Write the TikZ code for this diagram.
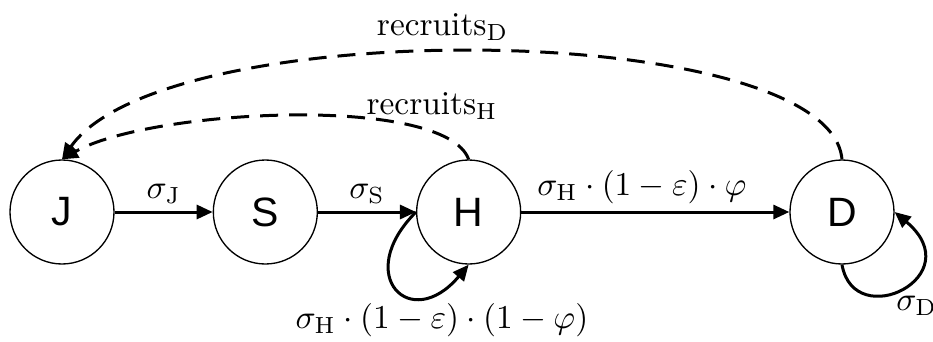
\documentclass[tikz,border=0pt]{standalone}
\usepackage{amsmath}
\usepackage{fontspec}
\setsansfont{Liberation Sans}
\usetikzlibrary{arrows.meta}
\usetikzlibrary{positioning}
\tikzset{
  estado/.style={draw, circle, line width=0.4pt, minimum size=31.2pt, inner sep=0pt, font=\fontsize{12.3}{14}\selectfont\sffamily},
  fluxo/.style={-{Triangle[length=4.8pt, width=4.2pt]}, line width=0.9pt},
  recruta/.style={fluxo, dash pattern=on 5.4pt off 3.3pt},
  rotulo/.style={font=\normalsize, inner sep=2pt},
}

\begin{document}
\begin{tikzpicture}[x=0.3pt, y=-0.3pt, node distance=29.4pt]
  \useasboundingbox (0,0) rectangle (933,341);
  \node[estado] (J) at (62,212) {J};
  \node[estado, right=of J] (S) {S};
  \node[estado, right=of S] (H) {H};
  \node[estado, right=80.4pt of H] (D) {D};
  \draw[fluxo] (J) -- node[rotulo, above] {$\sigma_\mathrm{J}$} (S);
  \draw[fluxo] (S) -- node[rotulo, above] {$\sigma_\mathrm{S}$} (H);
  \draw[fluxo] (H) -- node[rotulo, above, pos=0.45] {$\sigma_\mathrm{H}\cdot(1-\varepsilon)\cdot\varphi$} (D);
  % laços
  \draw[fluxo] (H.west) to[out=225, in=230, distance=27pt]
    node[rotulo, pos=0.65, below, xshift=8.7pt] {$\sigma_\mathrm{H}\cdot(1-\varepsilon)\cdot(1-\varphi)$} (H.south);
  \draw[fluxo] (D.south) to[out=-80, in=-40, out distance=21pt, in distance=30pt]
    node[rotulo, pos=0.5, below right, xshift=-4pt] {$\sigma_\mathrm{D}$} (D.east);
  % recrutamento
  \draw[recruta] (H.north) to[out=110, in=30, out distance=21pt, in distance=30pt]
    node[rotulo, pos=0.18, above, yshift=1pt] {$\mathrm{recruits}_\mathrm{H}$} (J.north);
  \draw[recruta] (D.north) to[out=95, in=55, out distance=42pt, in distance=54pt]
    node[rotulo, pos=0.54, above, yshift=1pt] {$\mathrm{recruits}_\mathrm{D}$} (J.north);
\end{tikzpicture}
\end{document}
